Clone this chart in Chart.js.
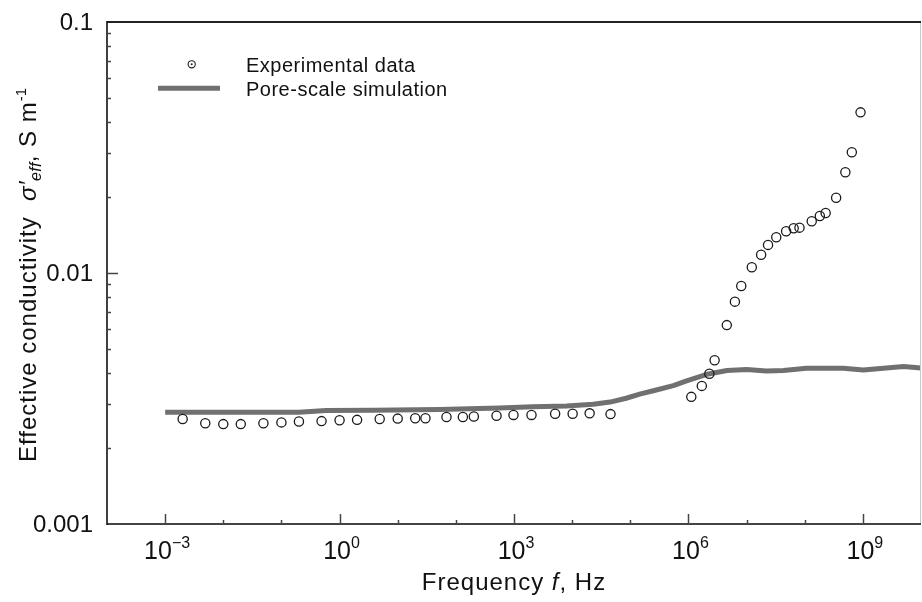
<!DOCTYPE html>
<html><head><meta charset="utf-8">
<script src="https://cdn.jsdelivr.net/npm/chart.js@4.4.1/dist/chart.umd.min.js"></script>
<style>html,body{margin:0;padding:0;background:#fff;overflow:hidden}#wrap{width:922px;height:602px}canvas{display:block}</style>
</head><body>
<div id="wrap"><canvas id="c" width="922" height="602"></canvas></div>
<script>
// ---- data ----
const expFreq = [0.0020, 0.0049, 0.010, 0.020, 0.049, 0.10, 0.20, 0.49, 1.0, 2.0, 4.9, 10, 20, 30, 69, 132, 204, 501, 980, 2000, 5100, 10200, 20000, 45700,
  1.12e6, 1.70e6, 2.29e6, 2.82e6, 4.57e6, 6.3e6, 8.1e6, 1.23e7, 1.78e7, 2.34e7, 3.24e7, 4.79e7, 6.46e7, 8.13e7, 1.32e8, 1.82e8, 2.29e8, 3.47e8, 5.0e8, 6.46e8, 9.12e8];
const expCond = [0.00262, 0.00252, 0.00250, 0.00250, 0.00252, 0.00254, 0.00256, 0.00257, 0.00259, 0.00260, 0.00262, 0.00263, 0.00264, 0.00264, 0.00267, 0.00267, 0.00268, 0.00270, 0.00272, 0.00272, 0.00275, 0.00275, 0.00276, 0.00274,
  0.00321, 0.00355, 0.00397, 0.00449, 0.00620, 0.00769, 0.00887, 0.01054, 0.01183, 0.01294, 0.01388, 0.01466, 0.01507, 0.01516, 0.01607, 0.01687, 0.01734, 0.01995, 0.02520, 0.03027, 0.04366];
const simFreq = [1e-3, 1e-2, 0.1, 0.2, 0.59, 3.7, 52, 560, 2100, 8000, 23000, 45000, 85000, 1.45e5, 2.8e5, 5.5e5, 9.3e5, 2.2e6, 4.6e6, 1.0e7, 2.2e7, 4.3e7, 1.07e8, 4.6e8, 1.02e9, 5.0e9, 1.0e10];
const simCond = [0.00279, 0.00279, 0.00279, 0.00279, 0.00283, 0.00284, 0.00286, 0.00290, 0.00293, 0.00295, 0.00300, 0.00306, 0.00317, 0.00329, 0.00342, 0.00356, 0.00372, 0.00396, 0.00409, 0.00413, 0.00407, 0.00409, 0.00417, 0.00417, 0.00411, 0.00424, 0.00418];
const xTickExponents = [-3, 0, 3, 6, 9];
const yTickValues = [0.001, 0.01, 0.1];
const yTickLabels = ['0.001', '0.01', '0.1'];
const legendLabels = ['Experimental data', 'Pore-scale simulation'];

const FONT = '"Liberation Sans", Arial, Helvetica, sans-serif';
const TXT = '#111';

function spacing(ctx, px) { if ('letterSpacing' in ctx) ctx.letterSpacing = px + 'px'; }

function runsWidth(ctx, runs) {
  let w = 0;
  for (const r of runs) {
    ctx.font = (r.italic ? 'italic ' : '') + r.size + 'px ' + FONT;
    spacing(ctx, r.sp || 0);
    w += ctx.measureText(r.t).width;
  }
  return w;
}
function drawRuns(ctx, runs, cx, y) {
  let x = cx - runsWidth(ctx, runs) / 2;
  ctx.textAlign = 'left';
  ctx.textBaseline = 'alphabetic';
  for (const r of runs) {
    ctx.font = (r.italic ? 'italic ' : '') + r.size + 'px ' + FONT;
    spacing(ctx, r.sp || 0);
    ctx.fillText(r.t, x, y + (r.dy || 0));
    x += ctx.measureText(r.t).width;
  }
}

const decor = {
  id: 'decor',
  afterDraw(chart) {
    const ctx = chart.ctx, a = chart.chartArea;
    const xs = chart.scales.x, ys = chart.scales.y;
    ctx.save();
    // frame
    ctx.lineCap = 'butt';
    ctx.strokeStyle = '#c8c8c8'; ctx.lineWidth = 1;
    ctx.beginPath(); ctx.moveTo(a.right - 0.5, a.top); ctx.lineTo(a.right - 0.5, a.bottom); ctx.stroke();
    ctx.strokeStyle = '#222'; ctx.lineWidth = 2;
    ctx.beginPath(); ctx.moveTo(a.left, a.top); ctx.lineTo(a.right, a.top); ctx.stroke();
    ctx.strokeStyle = '#444'; ctx.lineWidth = 2;
    ctx.beginPath(); ctx.moveTo(a.left, a.bottom); ctx.lineTo(a.right, a.bottom); ctx.stroke();
    ctx.strokeStyle = '#111'; ctx.lineWidth = 1.6;
    ctx.beginPath(); ctx.moveTo(a.left, a.top - 1); ctx.lineTo(a.left, a.bottom + 1); ctx.stroke();

    // x ticks (inside)
    ctx.strokeStyle = '#444'; ctx.lineWidth = 1.5;
    for (let k = -3; k <= 9; k++) {
      const px = Math.round(xs.getPixelForValue(Math.pow(10, k))) + 0.5;
      const len = (k % 3 === 0) ? 10 : 4;
      ctx.beginPath(); ctx.moveTo(px, a.bottom); ctx.lineTo(px, a.bottom - len); ctx.stroke();
    }
    // y ticks (inside)
    for (const d of [-3, -2]) {
      for (let m = 1; m <= 9; m++) {
        const v = m * Math.pow(10, d);
        if (v <= 0.001) continue;
        const py = Math.round(ys.getPixelForValue(v)) + 0.5;
        const len = m === 1 ? 11 : 4;
        ctx.beginPath(); ctx.moveTo(a.left, py); ctx.lineTo(a.left + len, py); ctx.stroke();
      }
    }

    ctx.fillStyle = TXT;
    // y tick labels
    ctx.font = '24px ' + FONT; spacing(ctx, 0);
    ctx.textAlign = 'right'; ctx.textBaseline = 'middle';
    yTickValues.forEach((v, i) => {
      ctx.fillText(yTickLabels[i], a.left - 14, ys.getPixelForValue(v) + 1);
    });
    // x tick labels 10^n
    xTickExponents.forEach(e => {
      const px = xs.getPixelForValue(Math.pow(10, e));
      const ex = e < 0 ? '\u2212' + (-e) : String(e);
      drawRuns(ctx, [
        { t: '10', size: 25, sp: 0 },
        { t: ex, size: 16, sp: 0, dy: -11 }
      ], px + 2, a.bottom + 35);
    });
    // x title
    drawRuns(ctx, [
      { t: 'Frequency ', size: 24, sp: 1 },
      { t: 'f', size: 24, italic: true, sp: 1 },
      { t: ', Hz', size: 24, sp: 1 }
    ], (a.left + a.right) / 2, a.bottom + 66);
    // y title (rotated)
    ctx.save();
    ctx.translate(36, (a.top + a.bottom) / 2 + 2);
    ctx.rotate(-Math.PI / 2);
    drawRuns(ctx, [
      { t: 'Effective conductivity  ', size: 24, sp: 1 },
      { t: '\u03C3\u2032', size: 24, italic: true, sp: 0.5 },
      { t: 'eff', size: 16, italic: true, sp: 0.3, dy: 5 },
      { t: ', S m', size: 24, sp: 1 },
      { t: '-1', size: 15, sp: 0, dy: -10 }
    ], 0, 0);
    ctx.restore();

    // legend
    const lx = a.left + 51, tx = a.left + 139;
    ctx.strokeStyle = '#222'; ctx.lineWidth = 1.1;
    ctx.beginPath(); ctx.arc(a.left + 84.7, a.top + 42.3, 3.6, 0, Math.PI * 2); ctx.stroke();
    ctx.fillStyle = '#222';
    ctx.beginPath(); ctx.arc(a.left + 84.7, a.top + 42.3, 1.0, 0, Math.PI * 2); ctx.fill();
    ctx.strokeStyle = '#707070'; ctx.lineWidth = 5;
    ctx.beginPath(); ctx.moveTo(lx, a.top + 66.3); ctx.lineTo(lx + 62, a.top + 66.3); ctx.stroke();
    ctx.fillStyle = TXT;
    ctx.font = '20px ' + FONT; spacing(ctx, 0.5);
    ctx.textAlign = 'left'; ctx.textBaseline = 'alphabetic';
    ctx.fillText(legendLabels[0], tx, a.top + 50.3);
    ctx.fillText(legendLabels[1], tx, a.top + 74.3);
    ctx.restore();
  }
};

new Chart(document.getElementById('c'), {
  type: 'scatter',
  data: {
    datasets: [
      {
        label: legendLabels[0],
        data: expFreq.map((f, i) => ({ x: f, y: expCond[i] })),
        pointStyle: 'circle', pointRadius: 4.6, pointBorderWidth: 1.3,
        borderColor: '#1a1a1a', backgroundColor: 'rgba(0,0,0,0)', showLine: false
      },
      {
        label: legendLabels[1],
        data: simFreq.map((f, i) => ({ x: f, y: simCond[i] })),
        showLine: true, pointRadius: 0, borderColor: '#707070', borderWidth: 5,
        tension: 0, borderJoinStyle: 'round', borderCapStyle: 'butt'
      }
    ]
  },
  options: {
    responsive: false, animation: false,
    layout: { autoPadding: false, padding: { top: 22, right: 1, left: 0, bottom: 0 } },
    plugins: { legend: { display: false }, tooltip: { enabled: false } },
    scales: {
      x: {
        type: 'logarithmic', min: 1e-4, max: 1e10,
        grid: { display: false }, border: { display: false },
        ticks: { display: false },
        afterFit(s) { s.height = 78; s.paddingLeft = 0; s.paddingRight = 0; }
      },
      y: {
        type: 'logarithmic', min: 0.001, max: 0.1,
        grid: { display: false }, border: { display: false },
        ticks: { display: false },
        afterFit(s) { s.width = 107; s.paddingTop = 0; s.paddingBottom = 0; }
      }
    }
  },
  plugins: [decor]
});
</script>
</body></html>
